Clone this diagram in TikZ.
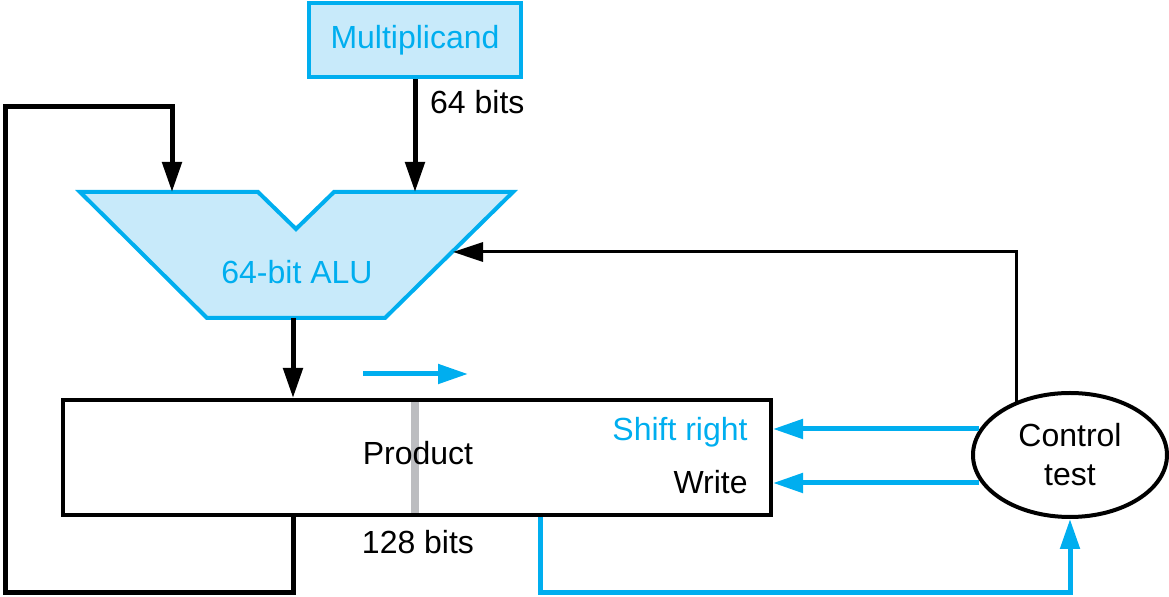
\documentclass[tikz,border=0pt]{standalone}
\usepackage{fontspec}
\setmainfont{Liberation Sans}
\usepackage{tikz}
\usetikzlibrary{arrows.meta, positioning, shapes.geometric}
\definecolor{hwblue}{HTML}{00AEEF}
\definecolor{hwfill}{HTML}{C8EAFA}
\definecolor{hwgray}{HTML}{BCBDC0}
\tikzset{>/.tip={Triangle[length=15pt,width=9.5pt]}}
\tikzset{reg/.style={draw, line width=2pt, inner sep=0pt}}
\tikzset{bus/.style={->, line width=2.5pt}}
\tikzset{ctl/.style={->, line width=1.5pt}}
\tikzset{sig/.style={->, hwblue, line width=2.5pt}}

\begin{document}
\begin{tikzpicture}[x=0.5pt, y=-0.5pt, font=\fontsize{16}{19.5}\selectfont]
\useasboundingbox (0,0) rectangle (1169,597);
% registers and ALU
\node(mcand) [reg, draw=hwblue, fill=hwfill, text=hwblue, minimum width=106pt, minimum height=37pt] at (415,40) {Multiplicand};
\draw[hwblue, fill=hwfill, line width=2pt] (80,192) -- (258,192) -- (296,229) -- (334,192) -- (513,192) -- (385,318) -- (207,318) -- cycle;
\node(alu) [text=hwblue] at (297,272) {64-bit ALU};
\coordinate (aluA) at (172,192);
\coordinate (aluB) at (415,192);
\coordinate (aluC) at (453,252);
\coordinate (aluD) at (293,318);
\draw[hwgray, line width=4pt] (415,400) -- (415,515);
\node(prod) [reg, minimum width=354pt, minimum height=57.5pt] at (417,457.5) {};
\node(plabel) at (418,453) {Product};
\node(shr) [anchor=east, inner sep=0pt, text=hwblue] at (748,432) {Shift right};
\node(wr) [anchor=east, inner sep=0pt] at (748,482) {Write};
\node(pw) at (418,542) {128 bits};
\node(ctrl) [ellipse, draw, line width=2pt, minimum width=97pt, minimum height=62pt, align=center, inner sep=0pt] at (1070,455) {Control\\test};
% data paths
\draw[bus] (mcand.south) -- node[pos=0.2, right, xshift=3pt]{64 bits} (aluB);
\draw[bus] (aluD) -- (aluD |- prod.north);
\coordinate (fb1) at (293,593);
\coordinate (fb2) at (5,107);
\draw[bus] (prod.south -| fb1) -- (fb1) -| (fb2) -| (aluA);
% control signals
\coordinate (c1) at (979,429);
\coordinate (c2) at (979,483);
\coordinate (c3) at (1016,404);
\draw[ctl] (c3) |- (aluC);
\draw[sig] (c1) -- (c1 -| prod.east);
\draw[sig] (c2) -- (c2 -| prod.east);
\coordinate (pout) at (540,593);
\draw[sig] (prod.south -| pout) -- (pout) -| (ctrl.south);
\coordinate (sh1) at (363,374);
\coordinate (sh2) at (468,374);
\draw[sig] (sh1) -- (sh2);
\end{tikzpicture}
\end{document}
